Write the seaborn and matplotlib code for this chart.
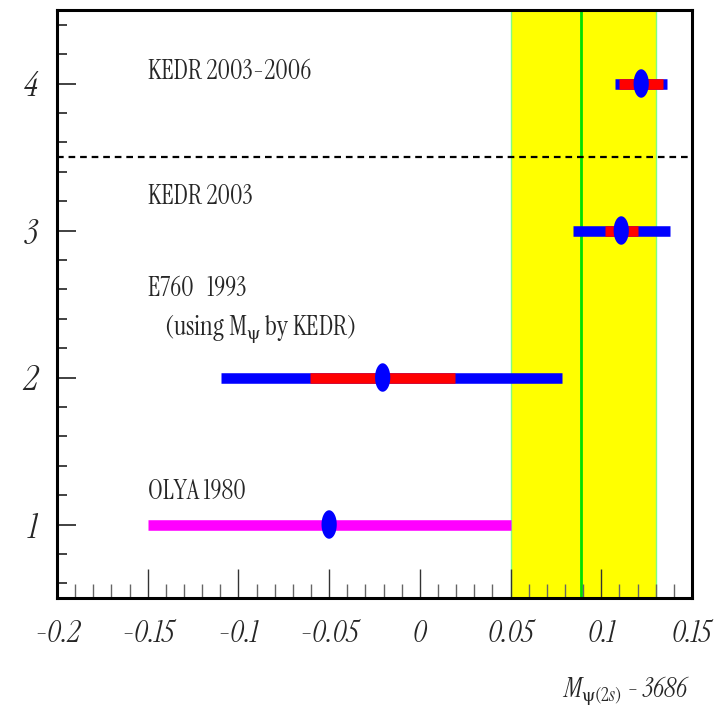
import numpy as np
import pandas as pd
import matplotlib
matplotlib.use("Agg")
import matplotlib.pyplot as plt
import seaborn as sns
from matplotlib.path import Path
from matplotlib.ticker import MultipleLocator

# ---- data ----
experiments = ["OLYA 1980", "E760 1993", "KEDR 2003", "KEDR 2003-2006"]
y_pos = [1, 2, 3, 4]
central = [-0.050, -0.0205, 0.111, 0.122]
tot_lo = [0.100, 0.089, 0.0266, 0.0143]
tot_hi = [0.100, 0.099, 0.0266, 0.0143]
inner_err = [None, 0.040, 0.009, 0.012]
bar_colors = ["#ff00ff", "blue", "blue", "blue"]
band_lo, band_hi, band_center = 0.050, 0.130, 0.089
separator_y = 3.5
x_ticks = [-0.2, -0.15, -0.1, -0.05, 0, 0.05, 0.1, 0.15]
x_tick_labels = ["-0.2", "-0.15", "-0.1", "-0.05", "0", "0.05", "0.1", "0.15"]
y_ticks = [1, 2, 3, 4]

sns.set_theme(style="white")
FAM = ["Instrument Serif", "Liberation Serif", "DejaVu Serif"]
plt.rcParams["font.family"] = FAM
plt.rcParams["mathtext.fontset"] = "custom"
plt.rcParams["mathtext.rm"] = "Instrument Serif"
plt.rcParams["mathtext.it"] = "Instrument Serif:italic"
plt.rcParams["mathtext.fallback"] = "stix"

fig = plt.figure(figsize=(7.18, 7.26), dpi=100)
ax = fig.add_axes([57/718, 1-598/726, (692-57)/718, (598-10)/726])
ax.set_xlim(-0.2, 0.15)
ax.set_ylim(0.5, 4.5)

# band
ax.axvspan(band_lo, band_hi, facecolor="#ffff00", edgecolor="#80ff80", lw=1, zorder=1)
ax.axvline(band_center, color="#00e000", lw=2, zorder=2)
ax.axhline(separator_y, color="black", lw=1.6, ls=(0, (3, 2.2)), zorder=3)

df = pd.DataFrame({"exp": experiments, "y": y_pos, "x": central})
lo = np.array(central) - np.array(tot_lo)
hi = np.array(central) + np.array(tot_hi)
for yy, l, h, c in zip(y_pos, lo, hi, bar_colors):
    ax.hlines(yy, l, h, color=c, lw=7.6, zorder=4, capstyle="butt")
for yy, x0, e in zip(y_pos, central, inner_err):
    if e is not None:
        ax.hlines(yy, x0 - e, x0 + e, color="red", lw=7.6, zorder=5, capstyle="butt")

t = np.linspace(0, 2*np.pi, 80)
ell = Path(np.column_stack([0.535*np.cos(t), np.sin(t)]), closed=True)
sns.scatterplot(data=df, x="x", y="y", marker=ell, s=20.5**2, color="blue",
                edgecolor="none", linewidth=0, zorder=6, ax=ax, legend=False)

# labels
fs = 19.5
ax.text(-0.15, 4.075, "KEDR 2003-2006", fontsize=fs, va="center", ha="left")
ax.text(-0.15, 3.23, "KEDR 2003", fontsize=fs, va="center", ha="left")
ax.text(-0.15, 2.60, "E760   1993", fontsize=fs, va="center", ha="left")
ax.text(-0.141, 2.33, r"(using M$_{\psi}$ by KEDR)", fontsize=fs, va="center", ha="left")
ax.text(-0.15, 1.22, "OLYA 1980", fontsize=fs, va="center", ha="left")

# ticks
ax.set_xticks(x_ticks)
ax.set_xticklabels(x_tick_labels, fontstyle="italic", fontsize=22)
ax.xaxis.set_minor_locator(MultipleLocator(0.01))
ax.set_yticks(y_ticks)
ax.set_yticklabels([str(v) for v in y_ticks], fontstyle="italic", fontsize=25)
ax.yaxis.set_minor_locator(MultipleLocator(0.2))
ax.tick_params(axis="x", which="major", direction="in", length=21, width=1, pad=15,
               color="#333333", bottom=True)
ax.tick_params(axis="x", which="minor", direction="in", length=10, width=1, color="#666666", bottom=True)
ax.tick_params(axis="y", which="major", direction="in", length=14, width=1.3, pad=14,
               color="#333333", left=True)
ax.tick_params(axis="y", which="minor", direction="in", length=7.2, width=1.3, color="#333333", left=True)
ax.set_xlabel("")
ax.set_ylabel("")
for s in ax.spines.values():
    s.set_color("black")
    s.set_linewidth(2.2)
    s.set_zorder(10)
ax.set_axisbelow(False)

fig.text(690/718, 1-690/726, r"$M_{\psi\mathit{(2s)}}$ - 3686", fontsize=19.5,
         fontstyle="italic", ha="right", va="center")

fig.savefig("out.png", dpi=100)
